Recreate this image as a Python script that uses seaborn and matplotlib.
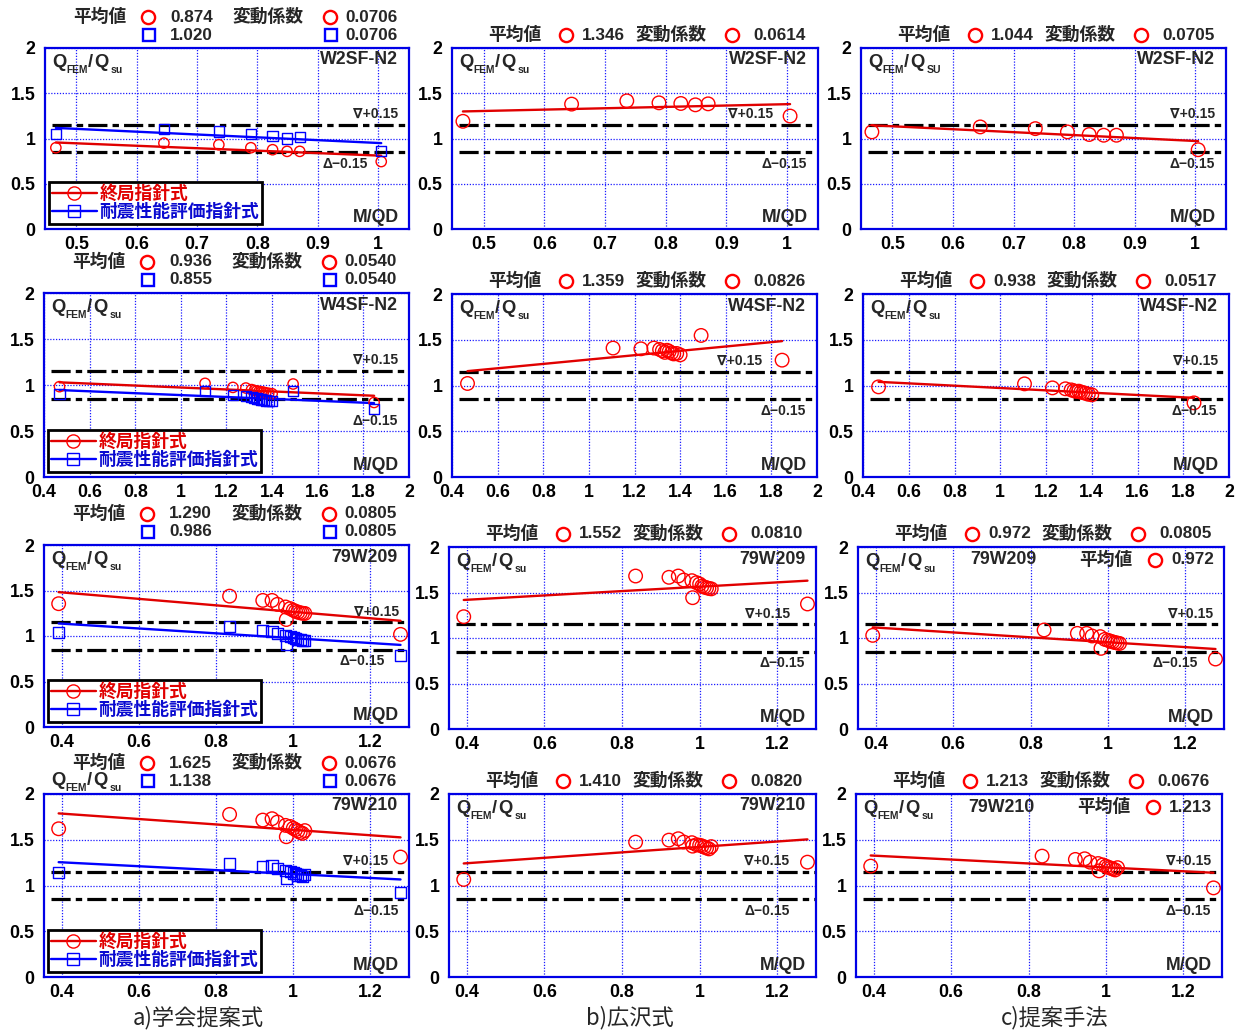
import numpy as np
import matplotlib
matplotlib.use("Agg")
import matplotlib.pyplot as plt
from matplotlib.lines import Line2D
from matplotlib.transforms import blended_transform_factory
import seaborn as sns

# ---------------- data ----------------
# M/QD of the analysed walls
mqd_w2sf = [0.466, 0.645, 0.736, 0.789, 0.825, 0.849, 0.870, 1.005]
mqd_w4sf = [0.468, 1.106, 1.228, 1.285, 1.310, 1.322, 1.333, 1.343, 1.352,
            1.362, 1.372, 1.385, 1.400, 1.492, 1.847]
mqd_79w = [0.392, 0.835, 0.921, 0.945, 0.959, 0.980, 0.982, 0.992, 1.000,
           1.006, 1.012, 1.018, 1.024, 1.030, 1.278]

# Q_FEM / Q_su  -- W2SF-N2
w2sf_ult = [0.898, 0.949, 0.931, 0.898, 0.876, 0.858, 0.858, 0.745]
w2sf_seis = [1.047, 1.102, 1.077, 1.047, 1.026, 1.000, 1.015, 0.865]
w2sf_hiro = [1.190, 1.380, 1.416, 1.394, 1.387, 1.372, 1.383, 1.248]
w2sf_prop = [1.073, 1.128, 1.109, 1.073, 1.044, 1.036, 1.036, 0.876]

# Q_FEM / Q_su  -- W4SF-N2 (nan: no result for that wall)
w4sf_ult = [0.982, 1.018, 0.974, 0.967, 0.950, 0.940, 0.935, 0.930, 0.925,
            0.922, 0.915, 0.910, 0.905, 1.011, 0.810]
w4sf_seis = [0.900, 0.936, 0.893, 0.884, 0.866, 0.858, 0.852, 0.846, 0.842,
             0.838, 0.832, 0.828, 0.824, 0.935, 0.742]
w4sf_hiro = [1.022, 1.409, 1.401, 1.409, 1.394, 1.380, 1.362, 1.385, 1.372,
             1.356, 1.345, 1.350, 1.335, 1.547, 1.277]
w4sf_prop = [0.985, 1.018, 0.974, 0.964, 0.952, 0.942, 0.935, 0.938, 0.928,
             0.922, 0.915, 0.905, 0.898, np.nan, 0.810]

# Q_FEM / Q_su  -- 79W209
w209_ult = [1.355, 1.438, 1.391, 1.391, 1.348, 1.319, 1.181, 1.301, 1.283,
            1.272, 1.262, 1.255, 1.250, 1.248, 1.018]
w209_seis = [1.040, 1.105, 1.057, 1.054, 1.030, 1.005, 0.903, 0.993, 0.980,
             0.972, 0.965, 0.960, 0.955, 0.953, 0.783]
w209_hiro = [1.234, 1.681, 1.667, 1.681, 1.637, 1.630, 1.443, 1.608, 1.593,
             1.570, 1.560, 1.552, 1.545, 1.540, 1.374]
w209_prop = [1.029, 1.088, 1.051, 1.051, 1.022, 1.015, 0.886, 0.985, 0.975,
             0.965, 0.958, 0.950, 0.945, 0.940, 0.769]

# Q_FEM / Q_su  -- 79W210
w210_ult = [1.620, 1.777, 1.715, 1.730, 1.693, 1.657, 1.533, 1.645, 1.625,
            1.610, 1.595, 1.580, 1.570, 1.600, 1.311]
w210_seis = [1.146, 1.241, 1.212, 1.215, 1.185, 1.160, 1.075, 1.150, 1.137,
             1.127, 1.115, 1.105, 1.100, 1.120, 0.927]
w210_hiro = [1.066, 1.474, 1.496, 1.511, 1.475, 1.468, 1.430, 1.445, 1.440,
             1.432, 1.420, 1.410, 1.400, 1.425, 1.255]
w210_prop = [1.212, 1.321, 1.285, 1.292, 1.255, 1.240, 1.160, 1.225, 1.210,
             1.200, 1.190, 1.180, 1.170, 1.195, 0.974]

# trend lines: value at the smallest and at the largest M/QD
w2sf_ult_fit, w2sf_seis_fit = [0.956, 0.810], [1.117, 0.949]
w2sf_hiro_fit, w2sf_prop_fit = [1.299, 1.380], [1.146, 0.971]
w4sf_ult_fit, w4sf_seis_fit = [1.029, 0.883], [0.945, 0.803]
w4sf_hiro_fit, w4sf_prop_fit = [1.157, 1.485], [1.040, 0.865]
w209_ult_fit, w209_seis_fit = [1.482, 1.167], [1.138, 0.902]
w209_hiro_fit, w209_prop_fit = [1.418, 1.630], [1.117, 0.879]
w210_ult_fit, w210_seis_fit = [1.788, 1.526], [1.255, 1.066]
w210_hiro_fit, w210_prop_fit = [1.241, 1.504], [1.328, 1.139]

specimens = ["W2SF-N2", "W4SF-N2", "79W209", "79W210"]

# statistics printed above each panel
mean_ult = ["0.874", "0.936", "1.290", "1.625"]
mean_seis = ["1.020", "0.855", "0.986", "1.138"]
cv_aij = ["0.0706", "0.0540", "0.0805", "0.0676"]
mean_hiro = ["1.346", "1.359", "1.552", "1.410"]
cv_hiro = ["0.0614", "0.0826", "0.0810", "0.0820"]
mean_prop = ["1.044", "0.938", "0.972", "1.213"]
cv_prop = ["0.0705", "0.0517", "0.0805", "0.0676"]

legend_labels = ["終局指針式", "耐震性能評価指針式"]
captions = ["a)学会提案式", "b)広沢式", "c)提案手法"]

# x axes of each row
xlims = [(0.448, 1.051), (0.4, 2.0), (0.354, 1.300), (0.354, 1.300)]
xticks = [[0.5, 0.6, 0.7, 0.8, 0.9, 1.0],
          [0.4, 0.6, 0.8, 1.0, 1.2, 1.4, 1.6, 1.8, 2.0],
          [0.4, 0.6, 0.8, 1.0, 1.2],
          [0.4, 0.6, 0.8, 1.0, 1.2]]
xticklabels = [["0.5", "0.6", "0.7", "0.8", "0.9", "1"],
               ["0.4", "0.6", "0.8", "1", "1.2", "1.4", "1.6", "1.8", "2"],
               ["0.4", "0.6", "0.8", "1", "1.2"],
               ["0.4", "0.6", "0.8", "1", "1.2"]]
yticks = [0, 0.5, 1.0, 1.5, 2.0]
yticklabels = ["0", "0.5", "1", "1.5", "2"]

# ---------------- style ----------------
sns.set_theme(style="white")
plt.rcParams["font.family"] = ["Liberation Sans", "Noto Sans CJK JP", "DejaVu Sans"]

RED = "#ff0000"
RED_LINE = "#e00000"
BLUE = "#0000ff"
BLUE_TXT = "#0a0ad0"
SPINE = "#0000e6"

W, H = 1242, 1035
fig = plt.figure(figsize=(W / 100, H / 100), dpi=100)
fig.patch.set_facecolor("white")


def fx(px):
    return px / W


def fy(py):
    return 1 - py / H


def ftext(px, py, s, size=12.3, va="center", **kw):
    fig.text(fx(px), fy(py), s, fontsize=size, fontweight="bold",
             ha="left", va=va, **kw)


def fmark(px, py, marker, color, ms):
    fig.add_artist(Line2D([fx(px)], [fy(py)], transform=fig.transFigure,
                          marker=marker, ms=ms, mfc="none", mec=color,
                          mew=1.7, ls="none"))


def qlabel(px, base, sub="su"):
    """Q_FEM/Q_su written with dropped subscripts; base = baseline in px."""
    ftext(px, base, "Q", size=13.2, va="baseline", zorder=9)
    ftext(px + 14, base + 6, "FEM", size=7.4, va="baseline", zorder=9)
    ftext(px + 36, base, "/", size=13.2, va="baseline", zorder=9)
    ftext(px + 42, base, "Q", size=13.2, va="baseline", zorder=9)
    ftext(px + 59, base + 6, sub, size=7.6, va="baseline", zorder=9)


# axes rectangles in pixels (left, top, right, bottom)
rects = [
    [(45, 48, 409, 229), (452, 48, 818, 229), (861, 48, 1226, 229)],
    [(44, 293, 409, 477), (452, 294, 817, 477), (863, 294, 1229, 477)],
    [(44, 545, 409, 727), (449, 547, 816, 729), (858, 547, 1224, 729)],
    [(44, 794, 409, 977), (449, 794, 816, 977), (856, 794, 1222, 977)],
]

row_x = [mqd_w2sf, mqd_w4sf, mqd_79w, mqd_79w]
panels = [
    [[(w2sf_ult, w2sf_ult_fit, "o"), (w2sf_seis, w2sf_seis_fit, "s")],
     [(w2sf_hiro, w2sf_hiro_fit, "o")], [(w2sf_prop, w2sf_prop_fit, "o")]],
    [[(w4sf_ult, w4sf_ult_fit, "o"), (w4sf_seis, w4sf_seis_fit, "s")],
     [(w4sf_hiro, w4sf_hiro_fit, "o")], [(w4sf_prop, w4sf_prop_fit, "o")]],
    [[(w209_ult, w209_ult_fit, "o"), (w209_seis, w209_seis_fit, "s")],
     [(w209_hiro, w209_hiro_fit, "o")], [(w209_prop, w209_prop_fit, "o")]],
    [[(w210_ult, w210_ult_fit, "o"), (w210_seis, w210_seis_fit, "s")],
     [(w210_hiro, w210_hiro_fit, "o")], [(w210_prop, w210_prop_fit, "o")]],
]

# right-hand offsets (px) of the +0.15 / -0.15 notes, and the y of the -0.15 note
up_off = [[11, 45, 11], [11, 55, 11], [10, 26, 11], [21, 27, 11]]
dn_off = [[41, 11, 11], [11, 11, 12], [24, 11, 26], [10, 26, 11]]
dn_y = [[0.72, 0.72, 0.72], [0.61, 0.72, 0.72], [0.72, 0.72, 0.72], [0.72, 0.72, 0.72]]

for r in range(4):
    for c in range(3):
        l, t, rr, b = rects[r][c]
        w, h = rr - l, b - t
        ax = fig.add_axes([fx(l), fy(b), w / W, h / H])
        x = row_x[r]
        xmin, xmax = min(x), max(x)
        small = (c == 0 and r < 2)
        for vals, fit, mk in panels[r][c]:
            col = RED if mk == "o" else BLUE
            lcol = RED_LINE if mk == "o" else BLUE
            sns.lineplot(x=[xmin, xmax], y=fit, ax=ax, color=lcol, lw=1.7,
                         estimator=None, legend=False, zorder=3)
            if mk == "o":
                size = 55 if small else 95
            else:
                size = 55 if small else 64
            sns.scatterplot(x=x, y=vals, ax=ax, marker=mk, s=size,
                            facecolor="none", edgecolor=col, linewidth=1.0,
                            zorder=4, legend=False)

        ax.set_xlim(*xlims[r])
        ax.set_ylim(0, 2)
        ax.set_xticks(xticks[r])
        ax.set_xticklabels(xticklabels[r])
        ax.set_yticks(yticks)
        ax.set_yticklabels(yticklabels)
        ax.set_xlabel("")
        ax.set_ylabel("")
        ax.tick_params(axis="both", length=0, labelsize=12.8, colors="black")
        ax.tick_params(axis="x", pad=5)
        ax.tick_params(axis="y", pad=7)
        for lab in ax.get_xticklabels() + ax.get_yticklabels():
            lab.set_fontweight("bold")
        ax.grid(True, color="#1a1aff", lw=0.9, ls=(0, (1, 1.3)))
        for sp in ax.spines.values():
            sp.set_color(SPINE)
            sp.set_linewidth(1.6)
            sp.set_zorder(6)

        # +/-15 % bands
        for yv in (1.15, 0.85):
            ax.axhline(yv, xmin=0.02, xmax=1, color="black", lw=2.3,
                       ls=(0, (6.0, 1.6, 2.0, 1.6)), zorder=2)

        bt = blended_transform_factory(ax.transAxes, ax.transData)
        ax.text(1 - up_off[r][c] / w, 1.27, "∇+0.15", transform=bt,
                ha="right", va="center", fontsize=10, fontweight="bold",
                family=["Liberation Sans", "DejaVu Sans"], zorder=7)
        ax.text(1 - dn_off[r][c] / w, dn_y[r][c], "Δ−0.15", transform=bt,
                ha="right", va="center", fontsize=10, fontweight="bold",
                family=["Liberation Sans", "DejaVu Sans"], zorder=7)

        # axis quantity labels
        sub = "SU" if (r == 0 and c == 2) else "su"
        if r == 3 and c == 0:
            qlabel(l + 7, t - 9, sub)
        else:
            qlabel(l + 7, t + 19, sub)
        ax.text(1 - 10 / w, 11 / h, "M/QD", transform=ax.transAxes,
                ha="right", va="center", fontsize=12.8, fontweight="bold", zorder=7)

        if c == 2 and r >= 2:
            ax.text(112 / w, 1 - 13 / h, specimens[r], transform=ax.transAxes,
                    ha="left", va="center", fontsize=12.8, fontweight="bold", zorder=7)
        else:
            ax.text(1 - 11 / w, 1 - 12 / h, specimens[r], transform=ax.transAxes,
                    ha="right", va="center", fontsize=12.8, fontweight="bold", zorder=7)

        if c == 0:
            handles = [
                Line2D([], [], color=RED_LINE, lw=1.7, marker="o", ms=9.5,
                       mfc="none", mec=RED, mew=1.0),
                Line2D([], [], color=BLUE, lw=1.7, marker="s", ms=8.5,
                       mfc="none", mec=BLUE, mew=1.0),
            ]
            leg = ax.legend(handles, legend_labels, loc="lower left",
                            bbox_to_anchor=(4 / w, 5 / h), borderaxespad=0,
                            frameon=True, fancybox=False, edgecolor="black",
                            framealpha=1, handlelength=2.5, handletextpad=0.15,
                            labelspacing=0.02, borderpad=0.18,
                            prop={"weight": "bold", "size": 12.8},
                            labelcolor=[RED_LINE, BLUE_TXT])
            leg.get_frame().set_linewidth(2.0)
            leg.set_zorder(8)

        # statistics above the panel
        if c == 0:
            y1, y2 = t - 31, t - 13
            ftext(l + 28, y1, "平均値", size=12.8)
            fmark(l + 103, y1, "o", RED, 9.5)
            ftext(l + 125, y1, mean_ult[r])
            ftext(l + 188, y1, "変動係数", size=12.8)
            fmark(l + 285, y1, "o", RED, 9.5)
            ftext(l + 300, y1, cv_aij[r])
            fmark(l + 104, y2, "s", BLUE, 8.5)
            ftext(l + 125, y2, mean_seis[r])
            fmark(l + 286, y2, "s", BLUE, 8.5)
            ftext(l + 300, y2, cv_aij[r])
        else:
            mean_v = mean_hiro[r] if c == 1 else mean_prop[r]
            cv_v = cv_hiro[r] if c == 1 else cv_prop[r]
            y1 = t - 13
            ftext(l + 36, y1, "平均値", size=12.8)
            fmark(l + 114, y1, "o", RED, 9.5)
            ftext(l + 130, y1, mean_v)
            ftext(l + 184, y1, "変動係数", size=12.8)
            fmark(l + 280, y1, "o", RED, 9.5)
            ftext(l + 301, y1, cv_v)
            if c == 2 and r >= 2:
                ftext(l + 221, t + 13, "平均値", size=12.8)
                fmark(l + 297, t + 13, "o", RED, 9.5)
                ftext(l + 313, t + 13, mean_v)

# column captions
for cx, cap in zip([198, 630, 1055], captions):
    fig.text(fx(cx), fy(1018), cap, fontsize=16, ha="center", va="center",
             family=["Noto Sans CJK JP", "DejaVu Sans"], fontweight="normal")

fig.savefig("out.png", dpi=100, facecolor="white")
